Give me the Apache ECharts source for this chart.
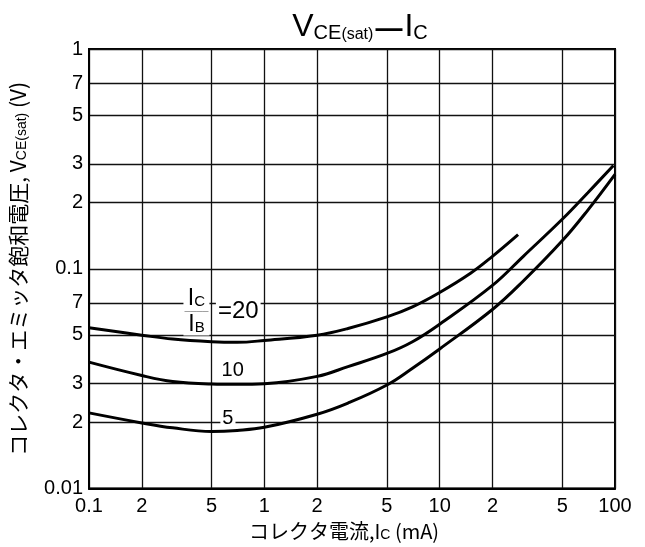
<!DOCTYPE html>
<html><head><meta charset="utf-8">
<script src="https://cdn.jsdelivr.net/npm/echarts@6/dist/echarts.min.js"></script>
<style>html,body{margin:0;padding:0;background:#fff}#c{width:645px;height:547px}</style>
</head><body><div id="c"></div>
<script>
// tick positions and labels
const xTicks = [0.1, 0.2, 0.5, 1, 2, 5, 10, 20, 50, 100];
const xTickLabels = ['0.1', '2', '5', '1', '2', '5', '10', '2', '5', '100'];
const yTicks = [0.01, 0.02, 0.03, 0.05, 0.07, 0.1, 0.2, 0.3, 0.5, 0.7, 1];
const yTickLabels = ['0.01', '2', '3', '5', '7', '0.1', '2', '3', '5', '7', '1'];

// curve IC/IB = 20
const ic20  = [0.1,    0.2,    0.3,    0.5,    0.7,    1,      2,      3,      5,      7,      10,    15,     20,     28];
const vce20 = [0.0539, 0.0499, 0.0479, 0.0466, 0.0463, 0.0472, 0.0499, 0.0535, 0.0604, 0.0671, 0.078, 0.0954, 0.1139, 0.143];
// curve IC/IB = 10
const ic10  = [0.1,    0.2,    0.3,    0.5,    0.7,    1,      2,      3,      5,      7,      10,     20,    30,    50,    70,    98];
const vce10 = [0.0376, 0.0327, 0.0307, 0.0299, 0.0298, 0.0300, 0.0324, 0.0359, 0.0412, 0.0466, 0.0560, 0.084, 0.114, 0.168, 0.222, 0.295];
// curve IC/IB = 5
const ic5   = [0.1,    0.2,    0.3,    0.5,    0.7,    1,      2,      3,      5,      7,      10,     20,     30,     50,    70,    100];
const vce5  = [0.0221, 0.0199, 0.0189, 0.0182, 0.0184, 0.0190, 0.0218, 0.0245, 0.0296, 0.0353, 0.0432, 0.0653, 0.088, 0.134, 0.185, 0.269];

// curve label anchor points (mA, V)
const labelFrac = [0.41, 0.064];
const labelEq20 = [0.71, 0.064];
const label10 = [0.66, 0.0343];
const label5 = [0.62, 0.0208];

const zip = (a, b) => a.map((v, i) => [v, b[i]]);
const xLabelMap = {}; xTicks.forEach((v, i) => xLabelMap[v] = xTickLabels[i]);
const yLabelMap = {}; yTicks.forEach((v, i) => yLabelMap[v] = yTickLabels[i]);
const fmtKey = v => String(+(+v).toPrecision(6));

const numFont = 'Liberation Sans';
const jpFont = 'Noto Sans CJK JP';

const curve = (d) => ({
  type: 'line', data: d, smooth: 0.4, showSymbol: false, symbol: 'none',
  lineStyle: { color: '#000', width: 3 }, z: 5, silent: true
});
const lbl = (pt, text, extra) => ({
  type: 'scatter', data: [pt], symbolSize: 0, itemStyle: { color: '#000', opacity: 1 }, z: 10, silent: true,
  label: Object.assign({ show: true, position: 'inside', formatter: text, color: '#000', opacity: 1,
    textBorderWidth: 0, fontFamily: numFont, fontSize: 20, backgroundColor: '#fff', padding: [0, 2] }, extra || {})
});

const chart = echarts.init(document.getElementById('c'));
chart.setOption({
  backgroundColor: '#fff',
  animation: false,
  title: {
    text: '{b|V}{s|CE}{t|(sat)}{d|—}{b|I}{s|C}',
    left: 355, top: 4, textAlign: 'center',
    textStyle: {
      rich: {
        b: { fontFamily: numFont, fontWeight: 'normal', fontSize: 32, color: '#000', verticalAlign: 'bottom', lineHeight: 34 },
        s: { fontFamily: numFont, fontWeight: 'normal', fontSize: 20, color: '#000', verticalAlign: 'bottom', lineHeight: 28 },
        t: { fontFamily: numFont, fontWeight: 'normal', fontSize: 16, color: '#000', verticalAlign: 'bottom', lineHeight: 26 },
        d: { fontFamily: numFont, fontWeight: 'bold', fontSize: 27, color: '#000', verticalAlign: 'bottom', lineHeight: 32, padding: [0, 2, 0, 2] }
      }
    }
  },
  grid: { left: 88, right: 30, top: 49, bottom: 56, show: true, borderColor: '#000', borderWidth: 2 },
  xAxis: {
    type: 'log', logBase: 10, min: 0.1, max: 100,
    name: '{j|コレクタ電流,I}{s|C}{j| (mA)}', nameLocation: 'middle', nameGap: 24,
    nameTextStyle: { padding: [0, 16, 0, 0], rich: {
      j: { fontFamily: jpFont, fontSize: 20, color: '#000' },
      s: { fontFamily: numFont, fontSize: 14, color: '#000', verticalAlign: 'bottom', padding: [7, 0, 0, 0] }
    } },
    axisLine: { show: true, lineStyle: { color: '#000', width: 2 } },
    axisTick: { show: false, customValues: xTicks },
    axisLabel: { customValues: xTicks, color: '#000', fontFamily: numFont, fontSize: 20, margin: 8,
      formatter: v => xLabelMap[fmtKey(v)] ?? '' },
    splitLine: { show: true, lineStyle: { color: '#111', width: 1.3 } },
    minorSplitLine: { show: false }
  },
  yAxis: {
    type: 'log', logBase: 10, min: 0.01, max: 1,
    name: '{j|コレクタ・エミッタ飽和電圧, V}{s|CE(sat)}{j| (V)}', nameLocation: 'middle', nameGap: 60, nameRotate: 90,
    nameTextStyle: { rich: {
      j: { fontFamily: jpFont, fontSize: 21, color: '#000' },
      s: { fontFamily: numFont, fontSize: 14, color: '#000', verticalAlign: 'bottom', padding: [7, 0, 0, 0] }
    } },
    axisLine: { show: true, lineStyle: { color: '#000', width: 2 } },
    axisTick: { show: false, customValues: yTicks },
    axisLabel: { customValues: yTicks, color: '#000', fontFamily: numFont, fontSize: 20, margin: 6,
      formatter: v => yLabelMap[fmtKey(v)] ?? '' },
    splitLine: { show: true, lineStyle: { color: '#111', width: 1.3 } },
    minorSplitLine: { show: false }
  },
  series: [
    curve(zip(ic20, vce20)),
    curve(zip(ic10, vce10)),
    curve(zip(ic5, vce5)),
    lbl(labelFrac, '{n|I}{s|C}\n{bar|————}\n{n|I}{s|B}', {
      padding: [0, 1], lineHeight: 10,
      rich: {
        n: { fontFamily: numFont, fontSize: 23, color: '#000', lineHeight: 22 },
        s: { fontFamily: numFont, fontSize: 15, color: '#000', lineHeight: 22, verticalAlign: 'bottom' },
        bar: { fontFamily: numFont, fontSize: 6, color: '#000', lineHeight: 4 }
      }
    }),
    lbl(labelEq20, '=20', { fontSize: 24 }),
    lbl(label10, '10', { fontSize: 20 }),
    lbl(label5, '5', { fontSize: 20, padding: [0, 2] })
  ]
});
</script></body></html>
